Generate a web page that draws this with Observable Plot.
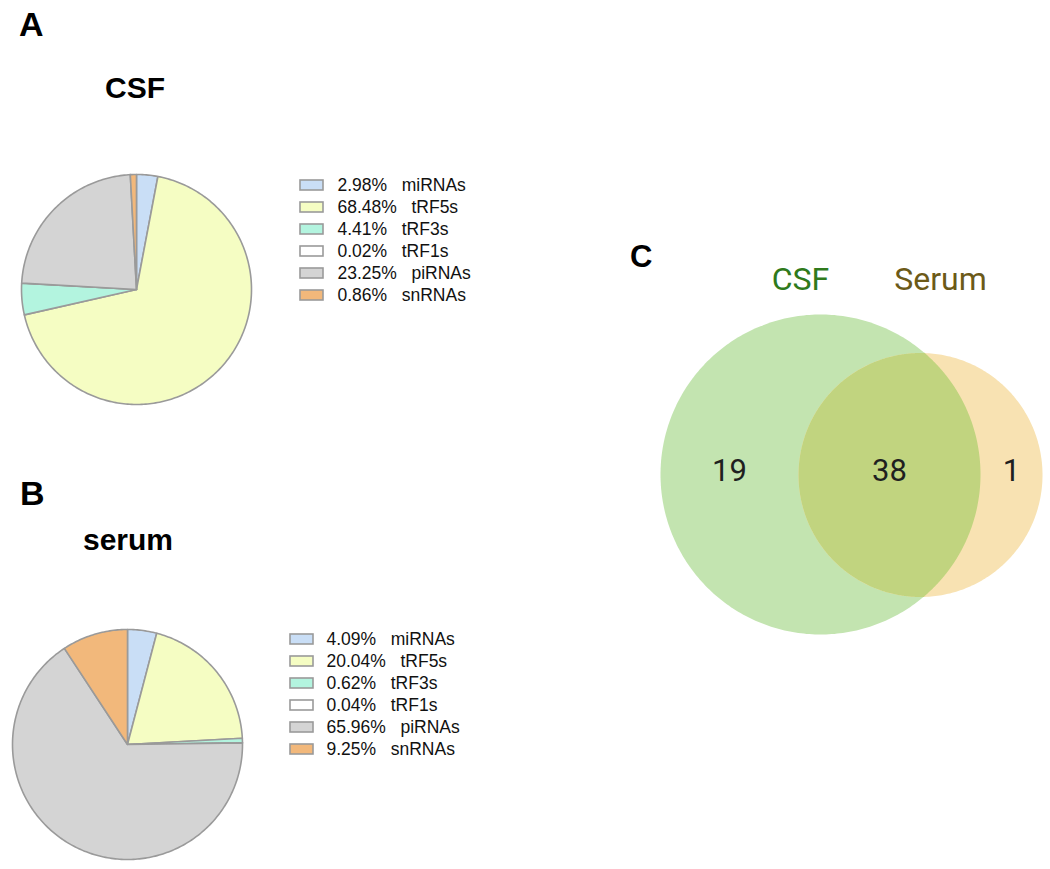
<!DOCTYPE html>
<html><head><meta charset="utf-8">
<script src="https://cdn.jsdelivr.net/npm/d3@7"></script>
<script src="https://cdn.jsdelivr.net/npm/@observablehq/plot@0.6"></script>
<style>
body{margin:0;background:#fff;}
#fig{position:relative;width:1050px;height:869px;font-family:"Liberation Sans",Arial,sans-serif;color:#000;overflow:hidden;}
.abs{position:absolute;line-height:1;white-space:nowrap;}
.panel{font-weight:bold;}
.title{font-weight:bold;transform:translateX(-50%);}
</style></head><body><div id="fig"></div>
<script>
// ---------------- data ----------------
const categories = ["miRNAs", "tRF5s", "tRF3s", "tRF1s", "piRNAs", "snRNAs"];
const csfPercent = [2.98, 68.48, 4.41, 0.02, 23.25, 0.86];
const serumPercent = [4.09, 20.04, 0.62, 0.04, 65.96, 9.25];
const sliceColors = ["#c9def6", "#f5fdc3", "#b3f4df", "#ffffff", "#d4d4d4", "#f2b87b"];
const vennSets = ["CSF", "Serum"];
const vennSetColors = ["#c3e4b0", "#f8e2b2"];
const vennOverlapColor = "#c1d47f";
const vennLabelColors = ["#2f7a1c", "#6c5a18"];
const vennRegions = ["CSF only", "CSF and Serum", "Serum only"];
const vennCounts = [19, 38, 1];

// ---------------- layout ----------------
const fig = document.getElementById("fig");
function addText(txt, {left, baseline, size, cls = "", font, color}) {
  const d = document.createElement("div");
  d.className = "abs " + cls;
  d.textContent = txt;
  d.style.fontSize = size + "px";
  d.style.left = left + "px";
  d.style.top = (baseline - 0.8465 * size) + "px";
  if (font) d.style.fontFamily = font;
  if (color) d.style.color = color;
  fig.appendChild(d);
  return d;
}
function place(node, left, top) {
  const w = document.createElement("div");
  w.className = "abs";
  w.style.left = left + "px";
  w.style.top = top + "px";
  w.appendChild(node);
  fig.appendChild(w);
}

const colorScale = {domain: categories, range: sliceColors};

function pieRows(values) {
  const total = d3.sum(values);
  let acc = 0;
  const rows = [];
  values.forEach((v, i) => {
    const a0 = acc / total * 2 * Math.PI;
    acc += v;
    const a1 = acc / total * 2 * Math.PI;
    const n = Math.max(2, Math.ceil((a1 - a0) / (Math.PI / 180)));
    rows.push({cat: categories[i], x: 0, y: 0});
    for (let k = 0; k <= n; k++) {
      const a = a0 + (a1 - a0) * k / n;
      rows.push({cat: categories[i], x: Math.sin(a), y: Math.cos(a)});
    }
  });
  return rows;
}

function pie(values) {
  return Plot.plot({
    width: 242, height: 242, margin: 6,
    x: {domain: [-1, 1], axis: null},
    y: {domain: [-1, 1], axis: null},
    color: colorScale,
    marks: [
      Plot.line(pieRows(values), {x: "x", y: "y", z: "cat", fill: "cat", stroke: "#9a9a9a",
        strokeWidth: 1.6, curve: "linear-closed", strokeLinejoin: "round"})
    ]
  });
}

function legend(values, textX) {
  return Plot.plot({
    width: 230, height: 132, margin: 0,
    x: {domain: [0, 230], range: [0, 230], axis: null},
    y: {domain: categories, type: "band", padding: 0, axis: null},
    color: colorScale,
    style: {fontFamily: '"Liberation Sans", Arial, sans-serif'},
    marks: [
      Plot.barX(categories, {x1: 1, x2: 24, y: d => d, fill: d => d, stroke: "#9a9a9a", strokeWidth: 1.6, insetTop: 6, insetBottom: 6}),
      Plot.text(categories, {x: textX, y: d => d, text: (d, i) => `${values[i].toFixed(2)}%\u00a0\u00a0\u00a0${d}`,
        textAnchor: "start", fontSize: 17.5, fill: "#111"})
    ]
  });
}

// Panel A
addText("A", {left: 19, baseline: 36, size: 34, cls: "panel"});
addText("CSF", {left: 135, baseline: 98, size: 30, cls: "title"});
place(pie(csfPercent), 136 - 121, 289 - 121);
place(legend(csfPercent, 38), 299, 174);

// Panel B
addText("B", {left: 20, baseline: 505, size: 34, cls: "panel"});
addText("serum", {left: 128, baseline: 550, size: 30, cls: "title"});
place(pie(serumPercent), 127 - 121, 744 - 121);
place(legend(serumPercent, 37), 289, 628);

// Panel C (Venn)
addText("C", {left: 630, baseline: 267, size: 31, cls: "panel"});
const V = {left: 630, top: 240, w: 420, h: 420};
const circles = [{cx: 190, cy: 234, r: 160}, {cx: 290, cy: 234.5, r: 122}];
function circleRows(c, key, a0 = 0, a1 = 2 * Math.PI) {
  const n = 360, out = [];
  for (let k = 0; k <= n; k++) {
    const a = a0 + (a1 - a0) * k / n;
    out.push({key, x: c.cx + c.r * Math.cos(a), y: c.cy + c.r * Math.sin(a)});
  }
  return out;
}
const [c1, c2] = circles;
const dist = c2.cx - c1.cx;
const aa = (c1.r * c1.r - c2.r * c2.r + dist * dist) / (2 * dist);
const hh = Math.sqrt(c1.r * c1.r - aa * aa);
const t1 = Math.atan2(hh, aa);
const t2 = Math.atan2(hh, aa - dist);
const lens = [...circleRows(c1, "lens", -t1, t1), ...circleRows(c2, "lens", t2, 2 * Math.PI - t2)];
const shapes = [...circleRows(c1, vennSets[0]), ...circleRows(c2, vennSets[1])];
const xL = c1.cx - c1.r, xA = c2.cx - c2.r, xB = c1.cx + c1.r, xR = c2.cx + c2.r;
const regionX = [(xL + xA) / 2, (xA + xB) / 2, (xB + xR) / 2];
const venn = Plot.plot({
  width: V.w, height: V.h, margin: 0,
  x: {domain: [0, V.w], range: [0, V.w], axis: null},
  y: {domain: [0, V.h], range: [0, V.h], axis: null},
  color: {domain: [...vennSets, "lens"], range: [...vennSetColors, vennOverlapColor]},
  marks: [
    Plot.line(shapes, {x: "x", y: "y", z: "key", fill: "key", stroke: null, curve: "linear-closed"}),
    Plot.line(lens, {x: "x", y: "y", z: "key", fill: "key", stroke: null, curve: "linear-closed"}),
    Plot.text(vennSets, {x: (d, i) => circles[i].cx + (i === 0 ? -20 : 20), y: 39, text: d => d,
      fill: (d, i) => vennLabelColors[i], fontSize: 32, fontFamily: "Roboto, sans-serif"}),
    Plot.text(vennRegions, {x: (d, i) => regionX[i], y: c1.cy - 3, text: (d, i) => String(vennCounts[i]),
      fill: "#1f1f1f", fontSize: 31, fontFamily: "Roboto, sans-serif"})
  ]
});
place(venn, V.left, V.top);
</script></body></html>
